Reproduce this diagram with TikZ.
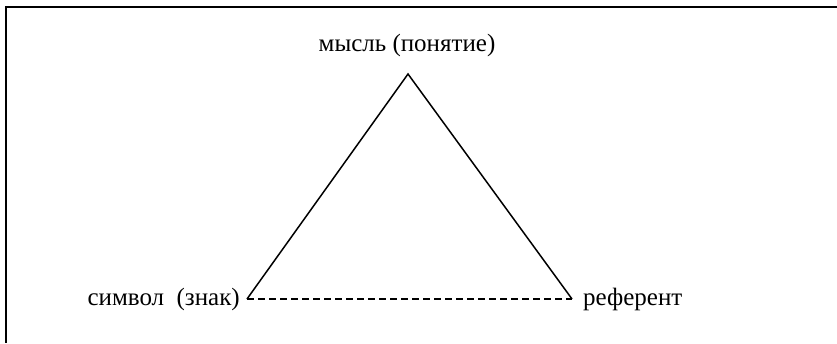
\documentclass[tikz,border=0pt]{standalone}
\usepackage{fontspec}
\setmainfont{Liberation Serif}
\usepackage{tikz}

\begin{document}
\begin{tikzpicture}[x=1pt, y=-1pt, font=\fontsize{25}{29}\selectfont]
  \useasboundingbox (0,0) rectangle (837,343);

  % Frame
  \draw[line width=2.4pt] (837,7) -- (6,7) -- (6,343);

  % Vertices
  \coordinate (thought) at (408,74);
  \coordinate (symbol) at (247,299);
  \coordinate (referent) at (572,299);

  % Labels
  \node[anchor=south, inner sep=0pt] (thoughtlabel) at (407,57) {мысль (понятие)};
  \node[anchor=east, inner sep=0pt] (symbollabel) at (240,299) {символ\enspace(знак)};
  \node[anchor=west, inner sep=0pt] (referentlabel) at (583,299) {референт};

  % Triangle sides
  \draw[line width=1.5pt] (symbol) -- (thought) -- (referent);
  \draw[line width=1.3pt, dash pattern=on 7pt off 4pt] (symbol) -- (referent);
\end{tikzpicture}
\end{document}
